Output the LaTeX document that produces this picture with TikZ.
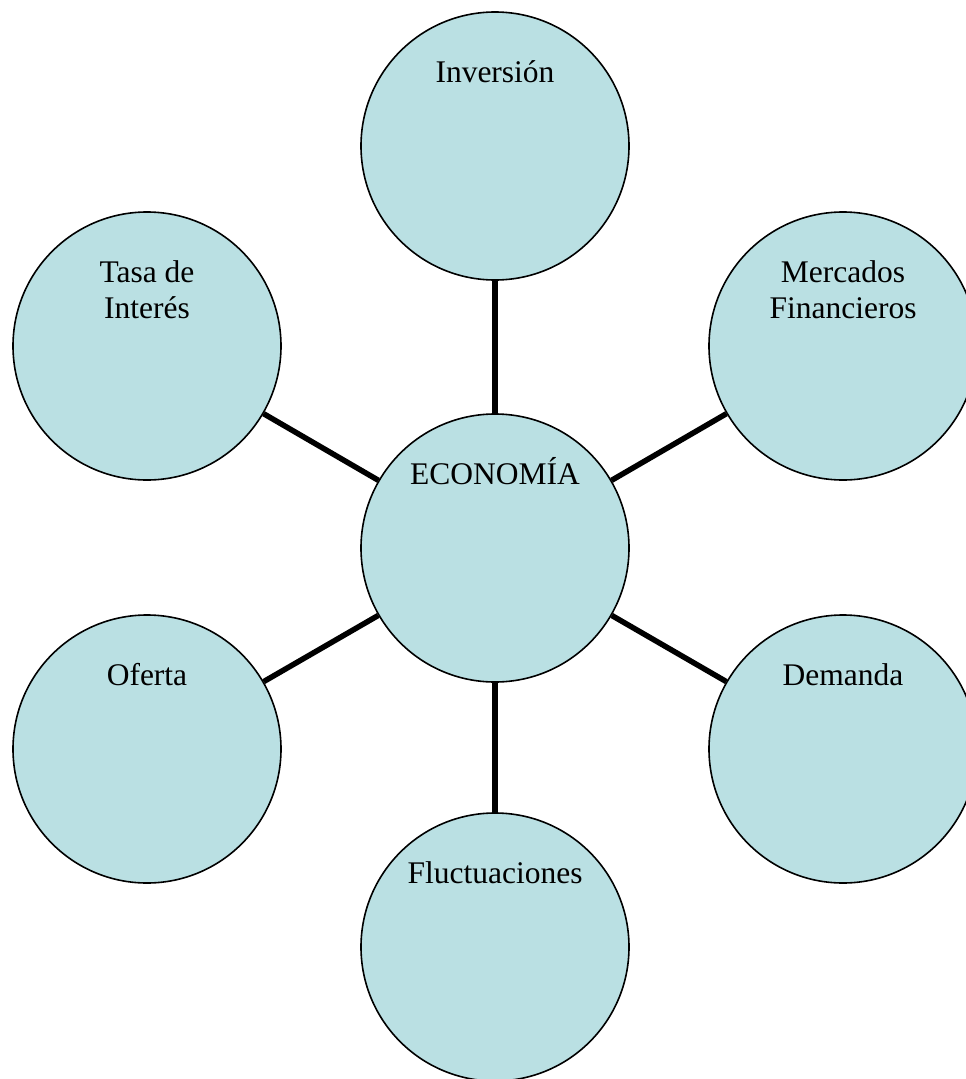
\documentclass[tikz,border=0pt]{standalone}
\usepackage{fontspec}
\setmainfont{Liberation Serif}
\definecolor{bubblefill}{RGB}{186,224,227}
\begin{document}
\begin{tikzpicture}[x=1pt,y=-1pt]

		\tikzstyle{bubble}=[circle,
			fill=bubblefill,draw=black,line width=1.6pt,
			minimum size=268pt,inner sep=0pt]
		\tikzstyle{caption}=[anchor=base,align=center,
			font=\fontsize{31.5}{36}\selectfont,
			inner sep=0pt]
		\tikzstyle{link}=[draw=black,line width=5.5pt]

		\useasboundingbox (0,0) rectangle (966,1079);

		\node[bubble]	(eco)	at (495,548)	{};
		\node[bubble]	(inv)	at (495,146)	{};
		\node[bubble]	(tasa)	at (147,346)	{};
		\node[bubble]	(merc)	at (843,346)	{};
		\node[bubble]	(ofer)	at (147,749)	{};
		\node[bubble]	(dem)	at (843,749)	{};
		\node[bubble]	(fluc)	at (495,947)	{};

		% base of a two line caption is its last line
		\node[caption]	(eco-t)	at ([yshift=64pt]eco.center)	{ECONOMÍA};
		\node[caption]	(inv-t)	at ([yshift=64pt]inv.center)	{Inversión};
		\node[caption]	(tasa-t)	at ([yshift=28pt]tasa.center)	{Tasa de\\ Interés};
		\node[caption]	(merc-t)	at ([yshift=28pt]merc.center)	{Mercados\\ Financieros};
		\node[caption]	(ofer-t)	at ([yshift=64pt]ofer.center)	{Oferta};
		\node[caption]	(dem-t)	at ([yshift=64pt]dem.center)	{Demanda};
		\node[caption]	(fluc-t)	at ([yshift=64pt]fluc.center)	{Fluctuaciones};

		\draw[link]	(eco)	--	(inv);
		\draw[link]	(eco)	--	(tasa);
		\draw[link]	(eco)	--	(merc);
		\draw[link]	(eco)	--	(ofer);
		\draw[link]	(eco)	--	(dem);
		\draw[link]	(eco)	--	(fluc);

	\end{tikzpicture}
\end{document}
